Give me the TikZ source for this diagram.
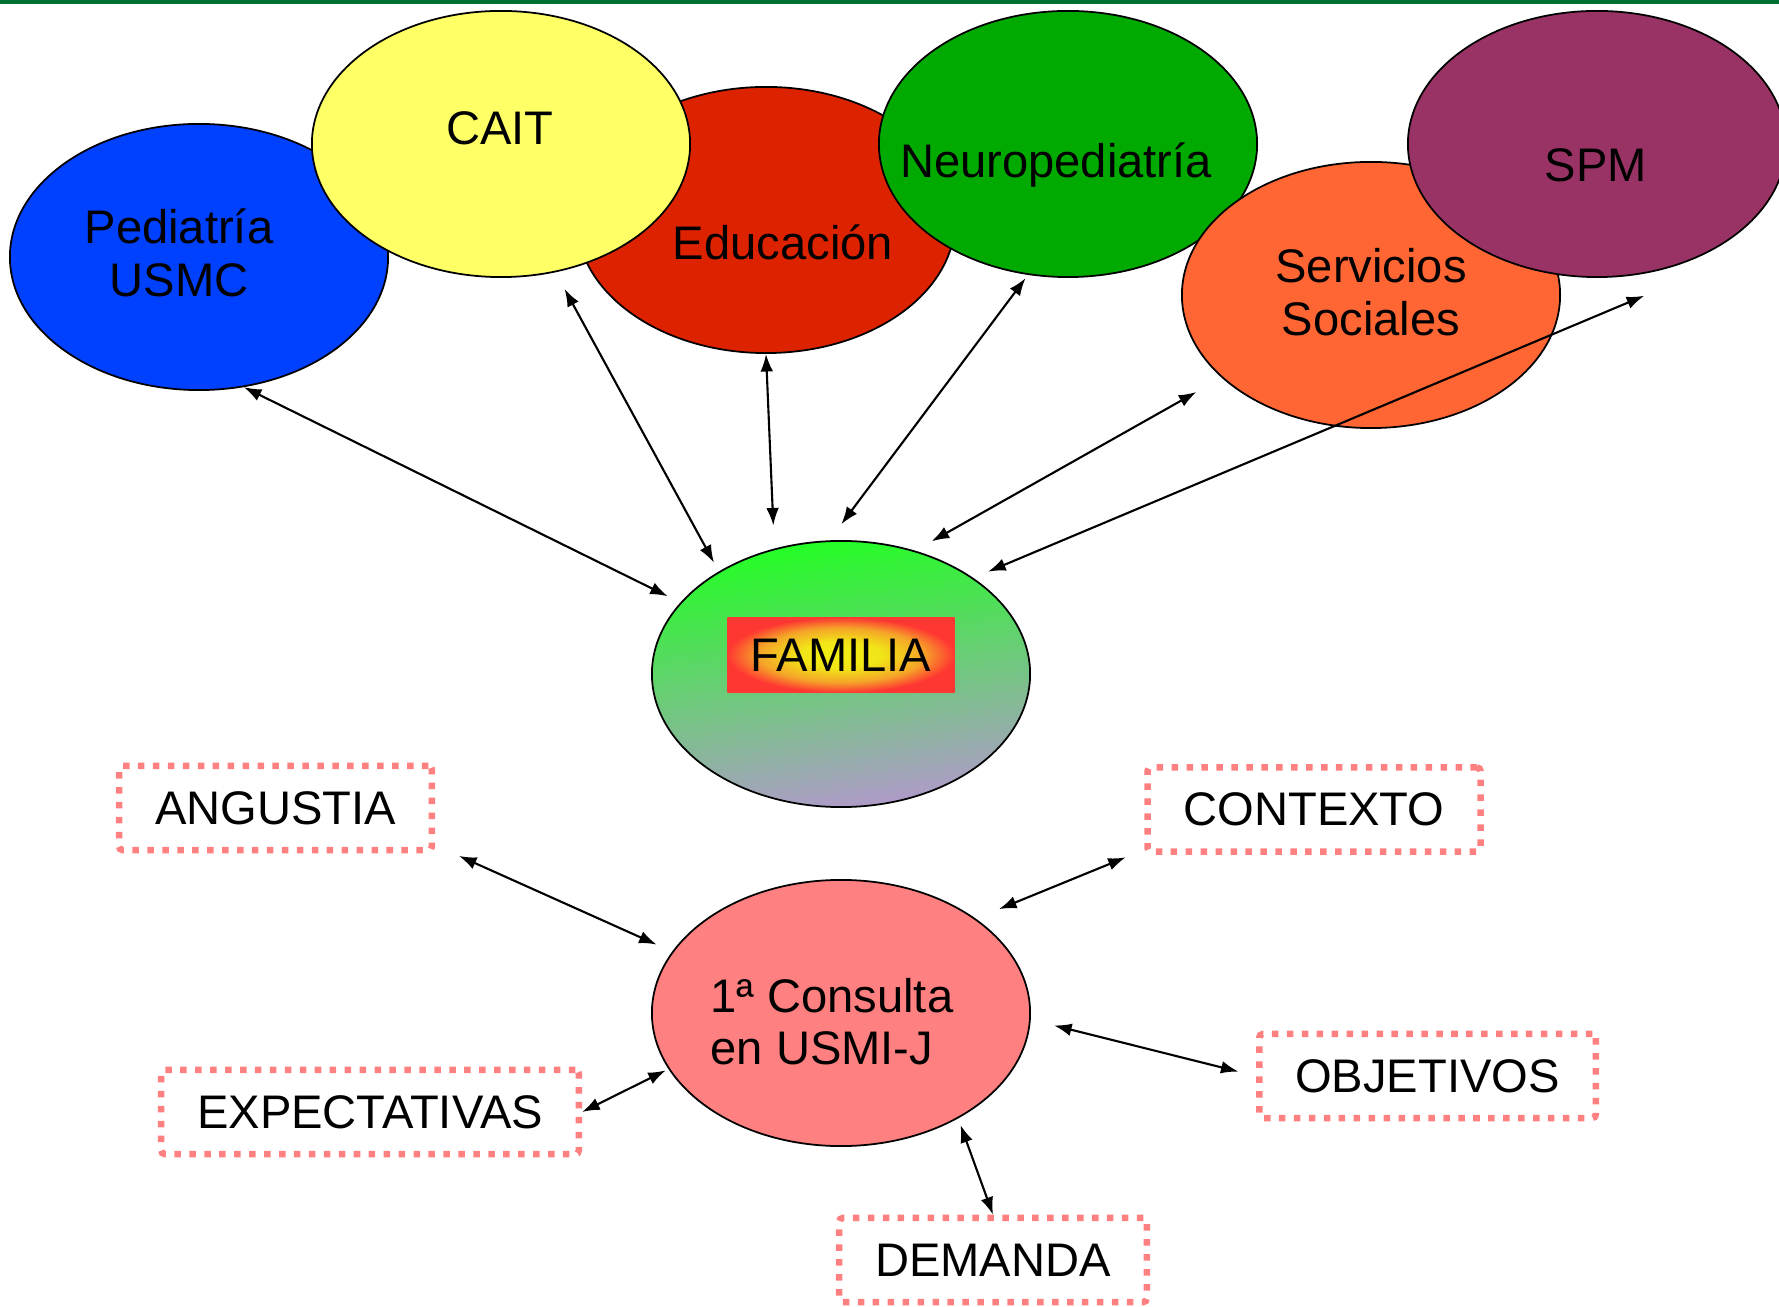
\documentclass[tikz,border=0pt]{standalone}
\usepackage{fontspec}
\setmainfont{Liberation Sans}
\usetikzlibrary{shapes.geometric,arrows.meta}
\definecolor{pedblue}{RGB}{0,64,255}
\definecolor{caityellow}{RGB}{255,255,102}
\definecolor{edured}{RGB}{221,34,0}
\definecolor{neurogreen}{RGB}{0,170,0}
\definecolor{servorange}{RGB}{255,102,51}
\definecolor{spmplum}{RGB}{153,51,102}
\definecolor{famgreen}{RGB}{34,255,34}
\definecolor{famlilac}{RGB}{178,153,204}
\definecolor{conspink}{RGB}{255,128,128}
\definecolor{tagpink}{RGB}{255,128,128}
\definecolor{barGreen}{RGB}{0,112,50}
\definecolor{glowyellow}{RGB}{240,240,20}
\definecolor{gloworange}{RGB}{245,165,40}
\definecolor{glowred}{RGB}{255,55,50}
\pgfdeclareradialshading{famglow}{\pgfpoint{0bp}{0bp}}{color(0bp)=(glowyellow); color(9bp)=(glowyellow!85!gloworange); color(18bp)=(gloworange); color(25bp)=(glowred); color(50bp)=(glowred)}

\begin{document}
\begin{tikzpicture}[x=0.01cm, y=-0.01cm, semithick,
  oval/.style={ellipse, draw, line width=0.5pt, minimum width=3.78cm, minimum height=2.66cm, inner sep=0pt},
  lbl/.style={font=\fontsize{13.4}{15}\selectfont, align=center, inner sep=0pt},
  tag/.style={rectangle, rounded corners=1pt, draw=tagpink, line width=1.85pt, dash pattern=on 1.85pt off 2.4pt, font=\fontsize{13.4}{15}\selectfont, inner xsep=0.36cm, minimum height=0.84cm},
  link/.style={{Latex[length=5pt,width=3.6pt]}-{Latex[length=5pt,width=3.6pt]}, line width=0.6pt}]
  \useasboundingbox (0,0) rectangle (1779,1307);
  \fill[barGreen] (0,0) rectangle (1779,4);

  % top row
  \node[oval, fill=pedblue] (ped) at (199,257) {};
  \node[oval, fill=edured] (edu) at (766,220) {};
  \node[oval, fill=caityellow] (cait) at (501,144) {};
  \node[oval, fill=neurogreen] (neuro) at (1068,144) {};
  \node[oval, fill=servorange] (serv) at (1371,295) {};
  \node[oval, fill=spmplum] (spm) at (1597,144) {};
  \node[lbl] (pedT) at (179,253) {Pediatría\\USMC};
  \node[lbl] (caitT) at (500,128) {CAIT};
  \node[lbl] (eduT) at (783,242) {Educación};
  \node[lbl] (neuroT) at (1056,165) {Neuropediatría};
  \node[lbl] (servT) at (1371,292) {Servicios\\Sociales};
  \node[lbl] (spmT) at (1596,165) {SPM};

  % familia
  \node[oval, top color=famgreen, bottom color=famlilac, shading angle=8] (fam) at (841,674) {};
  \node[rectangle, shading=famglow, minimum width=2.27cm, minimum height=0.75cm, lbl] (famT) at (841,655) {FAMILIA};

  % consulta
  \node[oval, fill=conspink] (cons) at (841,1013) {};
  \node[lbl, align=left, font=\fontsize{13.4}{14.8}\selectfont] (consT) at (832,1022) {1ª Consulta\\en USMI-J};

  \node[tag] (ang) at (275.5,808) {ANGUSTIA};
  \node[tag] (ctx) at (1314,809.5) {CONTEXTO};
  \node[tag] (exp) at (370,1112) {EXPECTATIVAS};
  \node[tag] (obj) at (1427.5,1076) {OBJETIVOS};
  \node[tag] (dem) at (993,1260) {DEMANDA};

  % links
  \draw[link, shorten >=0.14cm] (ped.-71) -- (fam.156);
  \draw[link, shorten <=0.19cm, shorten >=0.1cm] (cait.-67) -- (fam.140);
  \draw[link, shorten >=0.23cm] (edu.-90) -- (fam.118);
  \draw[link, shorten <=0.04cm, shorten >=0.2cm] (neuro.-107) -- (fam.95);
  \draw[link, shorten <=0.29cm, shorten >=0.19cm] (serv.-151) -- (fam.59);
  \draw[link, shorten >=0.16cm] ([yshift=-0.22cm]spm.-70) -- (fam.36);

  \draw[link, shorten <=0.26cm, shorten >=0.17cm] ([yshift=0.08cm]ang.south east) -- (cons.160);
  \draw[link, shorten <=0.2cm, shorten >=0.25cm] ([yshift=0.05cm]ctx.south west) -- (cons.35);
  \draw[link, shorten >=0.03cm] (exp.east) -- (cons.-162);
  \draw[link, shorten <=0.18cm, shorten >=0.24cm] (obj.west) -- (cons.-2);
  \draw[link, shorten >=0.07cm] (dem.north) -- (cons.-42);
\end{tikzpicture}
\end{document}
